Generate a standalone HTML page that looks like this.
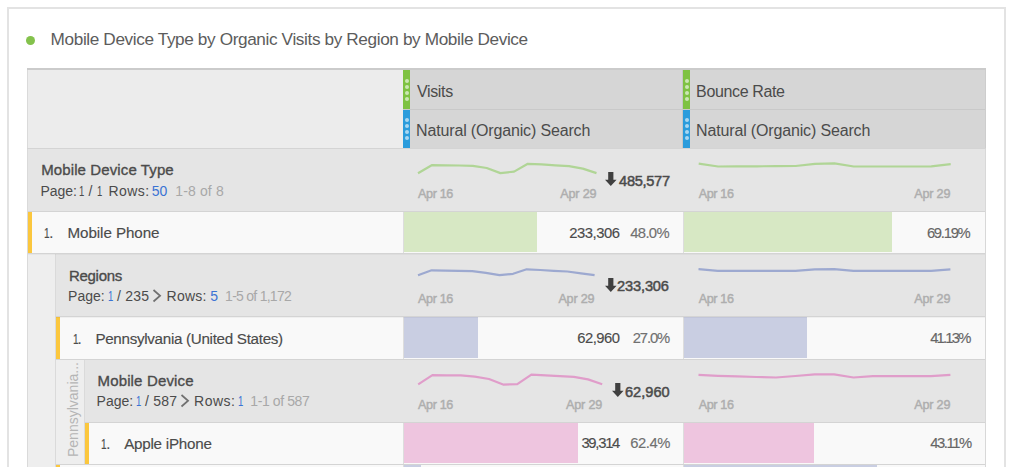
<!DOCTYPE html>
<html><head><meta charset="utf-8"><style>
html,body{margin:0;padding:0;background:#fff;}
body{width:1024px;height:467px;overflow:hidden;position:relative;font-family:"Liberation Sans",sans-serif;}
.t{position:absolute;line-height:1;white-space:nowrap;}
.r{position:absolute;}
.sp{position:absolute;left:0;top:0;}
</style></head><body>
<div class="r" style="left:7px;top:7px;width:995px;height:480px;border:2px solid #e3e3e3;background:#ffffff"></div>
<div class="r" style="left:26.3px;top:35.8px;width:9px;height:9px;border-radius:50%;background:#84c24c"></div>
<div id="title" class="t" style="left:50.60px;top:31.24px;font-size:17.2px;color:#5c5c5c;letter-spacing:-0.377px;">Mobile Device Type by Organic Visits by Region by Mobile Device</div>
<div class="r" style="left:27px;top:68px;width:959px;height:2px;background:#cbcbcb;"></div>
<div class="r" style="left:27px;top:70px;width:1px;height:78px;background:#dadada;"></div>
<div class="r" style="left:28px;top:70px;width:375px;height:78px;background:#ececec;"></div>
<div class="r" style="left:403px;top:70px;width:279px;height:78px;background:#d6d6d6;"></div>
<div class="r" style="left:682px;top:70px;width:1px;height:78px;background:#c6c6c6;"></div>
<div class="r" style="left:683px;top:70px;width:302px;height:78px;background:#d6d6d6;"></div>
<div class="r" style="left:985px;top:70px;width:1px;height:78px;background:#cdcdcd;"></div>
<div class="r" style="left:403px;top:109px;width:582px;height:1px;background:#c9c9c9;"></div>
<div class="r" style="left:403px;top:70px;width:7px;height:39px;background:#7ec242;"></div>
<div class="r" style="left:403px;top:110px;width:7px;height:38px;background:#2b9cdc;"></div>
<div class="r" style="left:404.5px;top:78.7px;width:4px;height:4px;border-radius:50%;background:rgba(255,255,255,0.6)"></div>
<div class="r" style="left:404.5px;top:84.9px;width:4px;height:4px;border-radius:50%;background:rgba(255,255,255,0.6)"></div>
<div class="r" style="left:404.5px;top:91.1px;width:4px;height:4px;border-radius:50%;background:rgba(255,255,255,0.6)"></div>
<div class="r" style="left:404.5px;top:97.3px;width:4px;height:4px;border-radius:50%;background:rgba(255,255,255,0.6)"></div>
<div class="r" style="left:404.5px;top:118.0px;width:4px;height:4px;border-radius:50%;background:rgba(255,255,255,0.6)"></div>
<div class="r" style="left:404.5px;top:124.1px;width:4px;height:4px;border-radius:50%;background:rgba(255,255,255,0.6)"></div>
<div class="r" style="left:404.5px;top:130.2px;width:4px;height:4px;border-radius:50%;background:rgba(255,255,255,0.6)"></div>
<div class="r" style="left:404.5px;top:136.4px;width:4px;height:4px;border-radius:50%;background:rgba(255,255,255,0.6)"></div>
<div class="r" style="left:683px;top:70px;width:7px;height:39px;background:#7ec242;"></div>
<div class="r" style="left:683px;top:110px;width:7px;height:38px;background:#2b9cdc;"></div>
<div class="r" style="left:684.5px;top:78.7px;width:4px;height:4px;border-radius:50%;background:rgba(255,255,255,0.6)"></div>
<div class="r" style="left:684.5px;top:84.9px;width:4px;height:4px;border-radius:50%;background:rgba(255,255,255,0.6)"></div>
<div class="r" style="left:684.5px;top:91.1px;width:4px;height:4px;border-radius:50%;background:rgba(255,255,255,0.6)"></div>
<div class="r" style="left:684.5px;top:97.3px;width:4px;height:4px;border-radius:50%;background:rgba(255,255,255,0.6)"></div>
<div class="r" style="left:684.5px;top:118.0px;width:4px;height:4px;border-radius:50%;background:rgba(255,255,255,0.6)"></div>
<div class="r" style="left:684.5px;top:124.1px;width:4px;height:4px;border-radius:50%;background:rgba(255,255,255,0.6)"></div>
<div class="r" style="left:684.5px;top:130.2px;width:4px;height:4px;border-radius:50%;background:rgba(255,255,255,0.6)"></div>
<div class="r" style="left:684.5px;top:136.4px;width:4px;height:4px;border-radius:50%;background:rgba(255,255,255,0.6)"></div>
<div id="visits" class="t" style="left:417.00px;top:83.76px;font-size:16px;color:#4b4b4b;letter-spacing:-0.360px;">Visits</div>
<div id="nat1" class="t" style="left:416.10px;top:122.76px;font-size:16px;color:#4b4b4b;letter-spacing:-0.157px;">Natural (Organic) Search</div>
<div id="bounce" class="t" style="left:696.10px;top:83.76px;font-size:16px;color:#4b4b4b;letter-spacing:-0.360px;">Bounce Rate</div>
<div id="nat2" class="t" style="left:696.10px;top:122.76px;font-size:16px;color:#4b4b4b;letter-spacing:-0.157px;">Natural (Organic) Search</div>
<div class="r" style="left:27px;top:148px;width:959px;height:1px;background:#d4d4d4;"></div>
<div class="r" style="left:28px;top:149px;width:957px;height:62px;background:#e5e5e5;"></div>
<div class="r" style="left:28px;top:212px;width:375px;height:41px;background:#f9f9f9;"></div>
<div class="r" style="left:403px;top:212px;width:1px;height:41px;background:#dddddd;"></div>
<div class="r" style="left:404px;top:212px;width:279px;height:41px;background:#f9f9f9;"></div>
<div class="r" style="left:683px;top:212px;width:1px;height:41px;background:#dddddd;"></div>
<div class="r" style="left:684px;top:212px;width:301px;height:41px;background:#f9f9f9;"></div>
<div class="r" style="left:28px;top:212px;width:4px;height:41px;background:#fbc73e;"></div>
<div class="r" style="left:56px;top:254px;width:929px;height:62px;background:#e5e5e5;"></div>
<div class="r" style="left:56px;top:317px;width:347px;height:42px;background:#f9f9f9;"></div>
<div class="r" style="left:403px;top:317px;width:1px;height:42px;background:#dddddd;"></div>
<div class="r" style="left:404px;top:317px;width:279px;height:42px;background:#f9f9f9;"></div>
<div class="r" style="left:683px;top:317px;width:1px;height:42px;background:#dddddd;"></div>
<div class="r" style="left:684px;top:317px;width:301px;height:42px;background:#f9f9f9;"></div>
<div class="r" style="left:56px;top:317px;width:4px;height:42px;background:#fbc73e;"></div>
<div class="r" style="left:85px;top:360px;width:900px;height:62px;background:#e5e5e5;"></div>
<div class="r" style="left:85px;top:423px;width:318px;height:41px;background:#f9f9f9;"></div>
<div class="r" style="left:403px;top:423px;width:1px;height:41px;background:#dddddd;"></div>
<div class="r" style="left:404px;top:423px;width:279px;height:41px;background:#f9f9f9;"></div>
<div class="r" style="left:683px;top:423px;width:1px;height:41px;background:#dddddd;"></div>
<div class="r" style="left:684px;top:423px;width:301px;height:41px;background:#f9f9f9;"></div>
<div class="r" style="left:85px;top:423px;width:4px;height:41px;background:#fbc73e;"></div>
<div class="r" style="left:56px;top:465px;width:347px;height:42px;background:#f9f9f9;"></div>
<div class="r" style="left:403px;top:465px;width:1px;height:42px;background:#dddddd;"></div>
<div class="r" style="left:404px;top:465px;width:279px;height:42px;background:#f9f9f9;"></div>
<div class="r" style="left:683px;top:465px;width:1px;height:42px;background:#dddddd;"></div>
<div class="r" style="left:684px;top:465px;width:301px;height:42px;background:#f9f9f9;"></div>
<div class="r" style="left:56px;top:465px;width:4px;height:42px;background:#fbc73e;"></div>
<div class="r" style="left:28px;top:254px;width:27px;height:213px;background:#eeeeee;"></div>
<div class="r" style="left:55px;top:254px;width:1px;height:213px;background:#dadada;"></div>
<div class="r" style="left:56px;top:360px;width:28px;height:105px;background:#eeeeee;"></div>
<div class="r" style="left:84px;top:360px;width:1px;height:105px;background:#dadada;"></div>
<div class="r" style="left:28px;top:211px;width:957px;height:1px;background:#d4d4d4;"></div>
<div class="r" style="left:28px;top:253px;width:957px;height:1px;background:#d4d4d4;"></div>
<div class="r" style="left:56px;top:316px;width:929px;height:1px;background:#d4d4d4;"></div>
<div class="r" style="left:56px;top:359px;width:929px;height:1px;background:#d4d4d4;"></div>
<div class="r" style="left:85px;top:422px;width:900px;height:1px;background:#d4d4d4;"></div>
<div class="r" style="left:56px;top:464px;width:929px;height:1px;background:#d4d4d4;"></div>
<div class="r" style="left:27px;top:149px;width:1px;height:318px;background:#dadada;"></div>
<div class="r" style="left:985px;top:149px;width:1px;height:318px;background:#d8d8d8;"></div>
<div class="r" style="left:404px;top:212px;width:133px;height:40px;background:#d7e8c4;"></div>
<div class="r" style="left:684px;top:212px;width:208px;height:40px;background:#d7e8c4;"></div>
<div class="r" style="left:404px;top:317px;width:74px;height:41px;background:#c9cee2;"></div>
<div class="r" style="left:684px;top:317px;width:123px;height:41px;background:#c9cee2;"></div>
<div class="r" style="left:404px;top:423px;width:174px;height:40px;background:#eec5df;"></div>
<div class="r" style="left:684px;top:423px;width:130px;height:40px;background:#eec5df;"></div>
<div class="r" style="left:404px;top:465px;width:17px;height:2px;background:#c9cee2;"></div>
<div class="r" style="left:684px;top:465px;width:193px;height:2px;background:#c9cee2;"></div>
<div class="r" style="left:28px;top:254px;width:957px;height:1px;background:rgba(0,0,0,0.03);"></div>
<div class="r" style="left:56px;top:317px;width:929px;height:1px;background:rgba(0,0,0,0.04);"></div>
<div id="mdt" class="t" style="left:41.25px;top:162.40px;font-size:15px;color:#4b4b4b;letter-spacing:0.106px;-webkit-text-stroke:0.35px currentColor;">Mobile Device Type</div>
<div id="regions" class="t" style="left:69.00px;top:267.60px;font-size:15px;color:#4b4b4b;letter-spacing:-0.300px;-webkit-text-stroke:0.35px currentColor;">Regions</div>
<div id="md" class="t" style="left:97.50px;top:372.90px;font-size:15px;color:#4b4b4b;letter-spacing:0.150px;-webkit-text-stroke:0.35px currentColor;">Mobile Device</div>
<div id="p1_0" class="t" style="left:40.40px;top:184.15px;font-size:14px;color:#4b4b4b;letter-spacing:0.000px;">Page:</div>
<div id="p1_1" class="t" style="left:79.43px;top:184.15px;font-size:14px;color:#4b4b4b;letter-spacing:0.000px;transform:scaleX(0.68);transform-origin:0 0;">1</div>
<div id="p1_2" class="t" style="left:88.54px;top:184.15px;font-size:14px;color:#4b4b4b;letter-spacing:0.000px;">/</div>
<div id="p1_3" class="t" style="left:96.91px;top:184.15px;font-size:14px;color:#4b4b4b;letter-spacing:0.000px;transform:scaleX(0.68);transform-origin:0 0;">1</div>
<div id="p1_4" class="t" style="left:108.50px;top:184.15px;font-size:14px;color:#4b4b4b;letter-spacing:0.450px;">Rows:</div>
<div id="p1_5" class="t" style="left:151.80px;top:184.15px;font-size:14px;color:#3b73d4;letter-spacing:0.000px;">50</div>
<div id="p1_6" class="t" style="left:175.30px;top:184.15px;font-size:14px;color:#a8a8a8;letter-spacing:0.129px;">1-8 of 8</div>
<div id="p2_0" class="t" style="left:68.10px;top:288.85px;font-size:14px;color:#4b4b4b;letter-spacing:0.000px;">Page:</div>
<div id="p2_1" class="t" style="left:107.79px;top:288.85px;font-size:14px;color:#3b73d4;letter-spacing:0.000px;transform:scaleX(0.68);transform-origin:0 0;">1</div>
<div id="p2_2" class="t" style="left:117.00px;top:288.85px;font-size:14px;color:#4b4b4b;letter-spacing:0.225px;">/ 235</div>
<div id="p2_chev" class="r" style="left:152.3px;top:288.5px;width:10px;height:14px"><svg width="10" height="14" viewBox="0 0 10 14" style="display:block"><path d="M1.5 1 L8.1 6.75 L1.5 12.5" fill="none" stroke="#707070" stroke-width="1.7"/></svg></div>
<div id="p2_4" class="t" style="left:166.60px;top:288.85px;font-size:14px;color:#4b4b4b;letter-spacing:0.225px;">Rows:</div>
<div id="p2_5" class="t" style="left:210.26px;top:288.85px;font-size:14px;color:#3b73d4;letter-spacing:0.000px;">5</div>
<div id="p2_6" class="t" style="left:225.10px;top:288.85px;font-size:14px;color:#a8a8a8;letter-spacing:-0.736px;">1-5 of 1,172</div>
<div id="p3_0" class="t" style="left:96.60px;top:394.35px;font-size:14px;color:#4b4b4b;letter-spacing:-0.000px;">Page:</div>
<div id="p3_1" class="t" style="left:135.79px;top:394.35px;font-size:14px;color:#3b73d4;letter-spacing:0.000px;transform:scaleX(0.68);transform-origin:0 0;">1</div>
<div id="p3_2" class="t" style="left:145.00px;top:394.35px;font-size:14px;color:#4b4b4b;letter-spacing:0.225px;">/ 587</div>
<div id="p3_chev" class="r" style="left:179.9px;top:394.0px;width:10px;height:14px"><svg width="10" height="14" viewBox="0 0 10 14" style="display:block"><path d="M1.5 1 L8.1 6.75 L1.5 12.5" fill="none" stroke="#707070" stroke-width="1.7"/></svg></div>
<div id="p3_4" class="t" style="left:194.10px;top:394.35px;font-size:14px;color:#4b4b4b;letter-spacing:0.450px;">Rows:</div>
<div id="p3_5" class="t" style="left:237.69px;top:394.35px;font-size:14px;color:#3b73d4;letter-spacing:0.000px;transform:scaleX(0.68);transform-origin:0 0;">1</div>
<div id="p3_6" class="t" style="left:250.30px;top:394.35px;font-size:14px;color:#a8a8a8;letter-spacing:-0.400px;">1-1 of 587</div>
<div id="n1" class="t" style="left:43.80px;top:226.17px;font-size:14.8px;color:#4b4b4b;letter-spacing:0.000px;-webkit-text-stroke:0.15px currentColor;transform:scaleX(0.68);transform-origin:0 0;">1</div>
<div id="n1p" class="t" style="left:49.34px;top:226.17px;font-size:14.8px;color:#4b4b4b;letter-spacing:0.000px;-webkit-text-stroke:0.15px currentColor;">.</div>
<div id="mp" class="t" style="left:67.50px;top:225.13px;font-size:15.2px;color:#4b4b4b;letter-spacing:-0.082px;-webkit-text-stroke:0.15px currentColor;">Mobile Phone</div>
<div id="n2" class="t" style="left:72.74px;top:331.87px;font-size:14.8px;color:#4b4b4b;letter-spacing:0.000px;-webkit-text-stroke:0.15px currentColor;transform:scaleX(0.68);transform-origin:0 0;">1</div>
<div id="n2p" class="t" style="left:77.38px;top:331.87px;font-size:14.8px;color:#4b4b4b;letter-spacing:0.000px;-webkit-text-stroke:0.15px currentColor;">.</div>
<div id="pa" class="t" style="left:95.40px;top:330.93px;font-size:15.2px;color:#4b4b4b;letter-spacing:-0.300px;-webkit-text-stroke:0.15px currentColor;">Pennsylvania (United States)</div>
<div id="n3" class="t" style="left:101.26px;top:436.97px;font-size:14.8px;color:#4b4b4b;letter-spacing:0.000px;-webkit-text-stroke:0.15px currentColor;transform:scaleX(0.68);transform-origin:0 0;">1</div>
<div id="n3p" class="t" style="left:106.30px;top:436.97px;font-size:14.8px;color:#4b4b4b;letter-spacing:0.000px;-webkit-text-stroke:0.15px currentColor;">.</div>
<div id="ai" class="t" style="left:124.20px;top:436.13px;font-size:15.2px;color:#4b4b4b;letter-spacing:-0.245px;-webkit-text-stroke:0.15px currentColor;">Apple iPhone</div>
<div id="v1" class="t" style="left:569.20px;top:225.57px;font-size:14.8px;color:#4b4b4b;letter-spacing:-0.450px;-webkit-text-stroke:0.15px currentColor;">233,306</div>
<div id="q1" class="t" style="left:630.30px;top:225.57px;font-size:14.8px;color:#707070;letter-spacing:-0.675px;-webkit-text-stroke:0.15px currentColor;">48.0%</div>
<div id="b1" class="t" style="left:926.90px;top:225.57px;font-size:14.8px;color:#666666;letter-spacing:-1.260px;-webkit-text-stroke:0.15px currentColor;">69.19%</div>
<div id="v2" class="t" style="left:577.30px;top:331.07px;font-size:14.8px;color:#4b4b4b;letter-spacing:-0.540px;-webkit-text-stroke:0.15px currentColor;">62,960</div>
<div id="q2" class="t" style="left:632.70px;top:331.07px;font-size:14.8px;color:#707070;letter-spacing:-1.125px;-webkit-text-stroke:0.15px currentColor;">27.0%</div>
<div id="b2" class="t" style="left:930.20px;top:331.07px;font-size:14.8px;color:#666666;letter-spacing:-1.800px;-webkit-text-stroke:0.15px currentColor;">41.13%</div>
<div id="v3" class="t" style="left:581.40px;top:436.37px;font-size:14.8px;color:#4b4b4b;letter-spacing:-1.260px;-webkit-text-stroke:0.15px currentColor;">39,314</div>
<div id="q3" class="t" style="left:630.30px;top:436.37px;font-size:14.8px;color:#707070;letter-spacing:-0.450px;-webkit-text-stroke:0.15px currentColor;">62.4%</div>
<div id="b3" class="t" style="left:930.20px;top:436.37px;font-size:14.8px;color:#666666;letter-spacing:-1.440px;-webkit-text-stroke:0.15px currentColor;">43.11%</div>
<svg class="r" style="left:605.3px;top:172.3px" width="11.6" height="14" viewBox="0 0 11.6 14"><path d="M3.1999999999999997 0 H8.4 V7.700000000000001 H11.6 L5.8 14 L0 7.700000000000001 H3.1999999999999997 Z" fill="#404040"/></svg>
<div id="t1" class="t" style="left:619.10px;top:173.74px;font-size:14.6px;color:#4b4b4b;letter-spacing:-0.300px;-webkit-text-stroke:0.5px currentColor;">485,577</div>
<svg class="r" style="left:605.0999999999999px;top:277.6px" width="11.6" height="14" viewBox="0 0 11.6 14"><path d="M3.1999999999999997 0 H8.4 V7.700000000000001 H11.6 L5.8 14 L0 7.700000000000001 H3.1999999999999997 Z" fill="#404040"/></svg>
<div id="t2" class="t" style="left:617.10px;top:279.04px;font-size:14.6px;color:#4b4b4b;letter-spacing:-0.150px;-webkit-text-stroke:0.5px currentColor;">233,306</div>
<svg class="r" style="left:612.0999999999999px;top:383.2px" width="11.6" height="14" viewBox="0 0 11.6 14"><path d="M3.1999999999999997 0 H8.4 V7.700000000000001 H11.6 L5.8 14 L0 7.700000000000001 H3.1999999999999997 Z" fill="#404040"/></svg>
<div id="t3" class="t" style="left:625.00px;top:384.64px;font-size:14.6px;color:#4b4b4b;letter-spacing:0.000px;-webkit-text-stroke:0.5px currentColor;">62,960</div>
<div id="a0a" class="t" style="left:418.00px;top:187.53px;font-size:12.6px;color:#aeaeae;letter-spacing:-0.360px;-webkit-text-stroke:0.45px currentColor;">Apr 16</div>
<div id="a0b" class="t" style="left:560.30px;top:187.53px;font-size:12.6px;color:#aeaeae;letter-spacing:-0.180px;-webkit-text-stroke:0.45px currentColor;">Apr 29</div>
<div id="a0c" class="t" style="left:698.70px;top:187.53px;font-size:12.6px;color:#aeaeae;letter-spacing:-0.360px;-webkit-text-stroke:0.45px currentColor;">Apr 16</div>
<div id="a0d" class="t" style="left:914.20px;top:187.53px;font-size:12.6px;color:#aeaeae;letter-spacing:-0.180px;-webkit-text-stroke:0.45px currentColor;">Apr 29</div>
<div id="a1a" class="t" style="left:418.00px;top:292.53px;font-size:12.6px;color:#aeaeae;letter-spacing:-0.360px;-webkit-text-stroke:0.45px currentColor;">Apr 16</div>
<div id="a1b" class="t" style="left:558.40px;top:292.53px;font-size:12.6px;color:#aeaeae;letter-spacing:-0.180px;-webkit-text-stroke:0.45px currentColor;">Apr 29</div>
<div id="a1c" class="t" style="left:698.70px;top:292.53px;font-size:12.6px;color:#aeaeae;letter-spacing:-0.360px;-webkit-text-stroke:0.45px currentColor;">Apr 16</div>
<div id="a1d" class="t" style="left:914.20px;top:292.53px;font-size:12.6px;color:#aeaeae;letter-spacing:-0.180px;-webkit-text-stroke:0.45px currentColor;">Apr 29</div>
<div id="a2a" class="t" style="left:418.00px;top:398.53px;font-size:12.6px;color:#aeaeae;letter-spacing:-0.360px;-webkit-text-stroke:0.45px currentColor;">Apr 16</div>
<div id="a2b" class="t" style="left:566.00px;top:398.53px;font-size:12.6px;color:#aeaeae;letter-spacing:-0.180px;-webkit-text-stroke:0.45px currentColor;">Apr 29</div>
<div id="a2c" class="t" style="left:698.70px;top:398.53px;font-size:12.6px;color:#aeaeae;letter-spacing:-0.360px;-webkit-text-stroke:0.45px currentColor;">Apr 16</div>
<div id="a2d" class="t" style="left:914.20px;top:398.53px;font-size:12.6px;color:#aeaeae;letter-spacing:-0.180px;-webkit-text-stroke:0.45px currentColor;">Apr 29</div>
<div class="t" style="left:66.2px;top:456.8px;font-size:14px;color:#b5b5b5;transform-origin:0 0;transform:rotate(-90deg);white-space:nowrap;line-height:14px">Pennsylvania...</div>
<svg class="sp" width="1024" height="467" viewBox="0 0 1024 467"><polyline points="418.0,173.2 431.7,165.2 445.5,165.4 459.2,165.5 472.9,165.8 486.7,168.0 500.4,173.1 514.1,171.6 527.8,163.8 541.6,164.4 555.3,165.4 569.0,166.1 582.8,168.6 596.5,173.1" fill="none" stroke="#b0d596" stroke-width="2.2" stroke-linejoin="round"/><polyline points="698.7,163.6 718.1,166.5 737.5,166.4 756.9,166.3 776.2,166.2 795.6,166.0 815.0,163.9 834.4,163.3 853.8,166.5 873.2,166.5 892.5,166.5 911.9,166.5 931.3,166.4 950.7,164.1" fill="none" stroke="#b0d596" stroke-width="2.2" stroke-linejoin="round"/><polyline points="418.0,275.2 431.6,270.3 445.2,270.6 458.8,270.9 472.3,271.2 485.9,272.9 499.5,275.2 513.1,273.8 526.7,269.3 540.3,270.0 553.8,270.8 567.4,271.5 581.0,273.3 594.6,275.2" fill="none" stroke="#9da9d0" stroke-width="2.2" stroke-linejoin="round"/><polyline points="698.5,269.1 717.9,270.8 737.3,270.8 756.6,270.8 776.0,270.8 795.4,270.8 814.8,269.4 834.1,269.1 853.5,270.8 872.9,270.8 892.3,270.8 911.6,270.8 931.0,270.8 950.4,269.4" fill="none" stroke="#9da9d0" stroke-width="2.2" stroke-linejoin="round"/><polyline points="418.2,384.4 432.4,375.2 446.5,375.3 460.7,375.4 474.8,376.6 489.0,379.0 503.1,384.6 517.3,384.2 531.4,374.6 545.6,375.4 559.7,376.1 573.9,376.9 588.0,379.4 602.2,384.2" fill="none" stroke="#e09dca" stroke-width="2.2" stroke-linejoin="round"/><polyline points="698.5,374.8 717.9,375.8 737.3,376.4 756.6,377.0 776.0,377.5 795.4,376.0 814.8,374.4 834.1,374.4 853.5,377.5 872.9,376.1 892.3,376.1 911.6,376.1 931.0,376.1 950.4,374.8" fill="none" stroke="#e09dca" stroke-width="2.2" stroke-linejoin="round"/></svg>
</body></html>
